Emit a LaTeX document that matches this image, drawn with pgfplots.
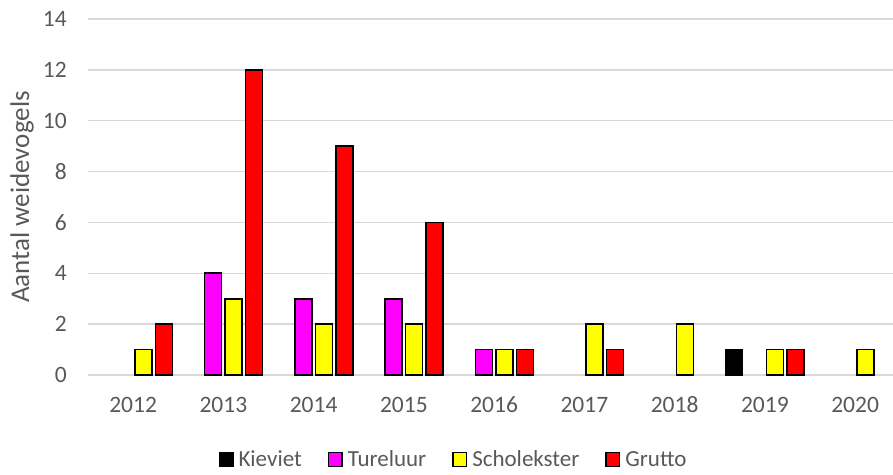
\documentclass[border=0pt]{standalone}
\usepackage{fontspec}
\setmainfont{Carlito}
\usepackage{pgfplots}
\pgfplotsset{compat=1.18}
\definecolor{txt}{HTML}{595959}
\definecolor{grd}{HTML}{D9D9D9}
\definecolor{tur}{HTML}{FF00FF}
\definecolor{sch}{HTML}{FFFF00}
\definecolor{gru}{HTML}{FF0000}
\begin{document}
\begin{tikzpicture}
\useasboundingbox (-88bp,-100bp) rectangle (805bp,375bp);
\begin{axis}[
  at={(0,0)}, anchor=south west,
  scale only axis, width=805bp, height=356bp,
  xmin=-0.5, xmax=8.42, ymin=0, ymax=14,
  ytick={0,2,...,14},
  xtick={0,...,8},
  xticklabels={2012,2013,2014,2015,2016,2017,2018,2019,2020},
  ymajorgrids, grid style={grd, line width=1.3bp},
  axis line style={draw=none},
  major tick length=0pt,
  /pgf/number format/assume math mode=true,
  tick label style={font=\fontsize{23.5bp}{26bp}\selectfont, text=txt, inner sep=0pt},
  yticklabel style={anchor=east, xshift=-21bp},
  xticklabel style={anchor=base, yshift=-37.7bp},
  every axis y label/.style={at={(axis description cs:0,0.5)}, xshift=-66bp, rotate=90, anchor=center},
  ylabel={Aantal weidevogels},
  label style={font=\fontsize{27bp}{30bp}\selectfont, text=txt},
  ybar=3.5bp, bar width=17bp,
  legend style={at={(0.4528,-0.2374)}, anchor=center, draw=none, fill=none,
    font=\fontsize{23bp}{26bp}\selectfont, text=txt, legend columns=-1,
    nodes={inner sep=0pt},
    /tikz/every odd column/.append style={column sep=5bp},
    /tikz/every even column/.append style={column sep=26bp}},
  legend image code/.code={\draw[#1,draw=black,line width=1.5bp] (0.75bp,-7bp) rectangle (14.25bp,7bp);},
  every axis plot/.append style={draw=black, line width=1.6bp},
]
\addplot[fill=black] coordinates {(7,1)};
\addplot[fill=tur] coordinates {(1,4) (2,3) (3,3) (4,1)};
\addplot[fill=sch] coordinates {(0,1) (1,3) (2,2) (3,2) (4,1) (5,2) (6,2) (7,1) (8,1)};
\addplot[fill=gru] coordinates {(0,2) (1,12) (2,9) (3,6) (4,1) (5,1) (7,1)};
\legend{Kieviet,Tureluur,Scholekster,Grutto}
\end{axis}
\end{tikzpicture}
\end{document}
